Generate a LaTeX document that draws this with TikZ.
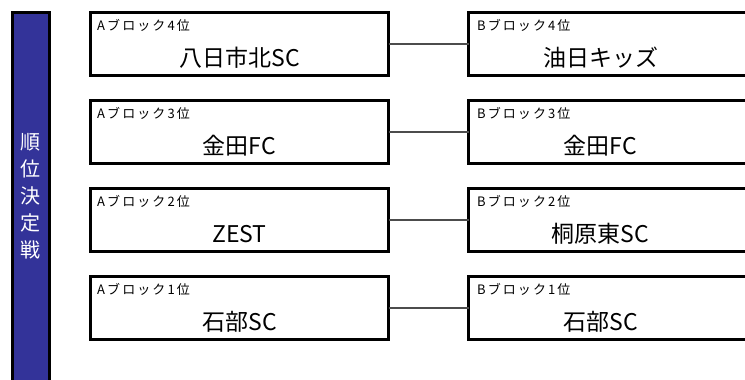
\documentclass[tikz,border=0pt]{standalone}
\usepackage{fontspec}
\setmainfont{Noto Sans CJK JP}
\newfontfamily\jplabel[LetterSpace=16]{Noto Sans CJK JP}
\usetikzlibrary{positioning, calc}
\definecolor{barblue}{RGB}{51,51,153}

\begin{document}
\begin{tikzpicture}[x=1pt, y=1pt]
	\tikzset{
		teambox/.style = {draw, line width=3pt, outer sep=0pt, inner sep=0pt, minimum width=298pt, minimum height=63pt, anchor=north west},
		ranklabel/.style = {font={\jplabel\fontsize{13}{14}\selectfont}, inner sep=0pt, anchor=base west},
		teamname/.style = {font={\fontsize{23}{26}\selectfont}, inner sep=0pt, anchor=base},
		link/.style = {draw=black!70, line width=1.3pt},
		titletext/.style = {font={\fontsize{20}{27}\selectfont}, text=white, align=center, inner sep=0pt},
	}

	\clip (0,0) rectangle (745,-380);

	\draw[line width=3pt, fill=barblue] (12.5,-12.5) rectangle (49.5,-400);
	\node[titletext] (title) at (30.5,-196.5) {順\\位\\決\\定\\戦};

	\foreach \r/\ateam/\bteam in {4/八日市北SC/油日キッズ, 3/金田FC/金田FC, 2/ZEST/桐原東SC, 1/石部SC/石部SC}
		{
			\pgfmathsetmacro{\ytop}{-12.5-88*(4-\r)}
			\node[teambox] (a\r) at (90.5,\ytop) {};
			\node[teambox, minimum width=300pt] (b\r) at (468.5,\ytop) {};

			\node[ranklabel] (alab\r) at ($(a\r.north west)+(6.5,-18)$) {Aブロック\r 位};
			\node[ranklabel] (blab\r) at ($(b\r.north west)+(8.5,-18)$) {Bブロック\r 位};

			\node[teamname] (aname\r) at ($(a\r.north)+(0,-53.5)$) {\ateam};
			\node[teamname] (bname\r) at ($(b\r.north west)+(132,-53.5)$) {\bteam};

			\draw[link] (a\r.east) -- (b\r.west);
		}

\end{tikzpicture}
\end{document}
